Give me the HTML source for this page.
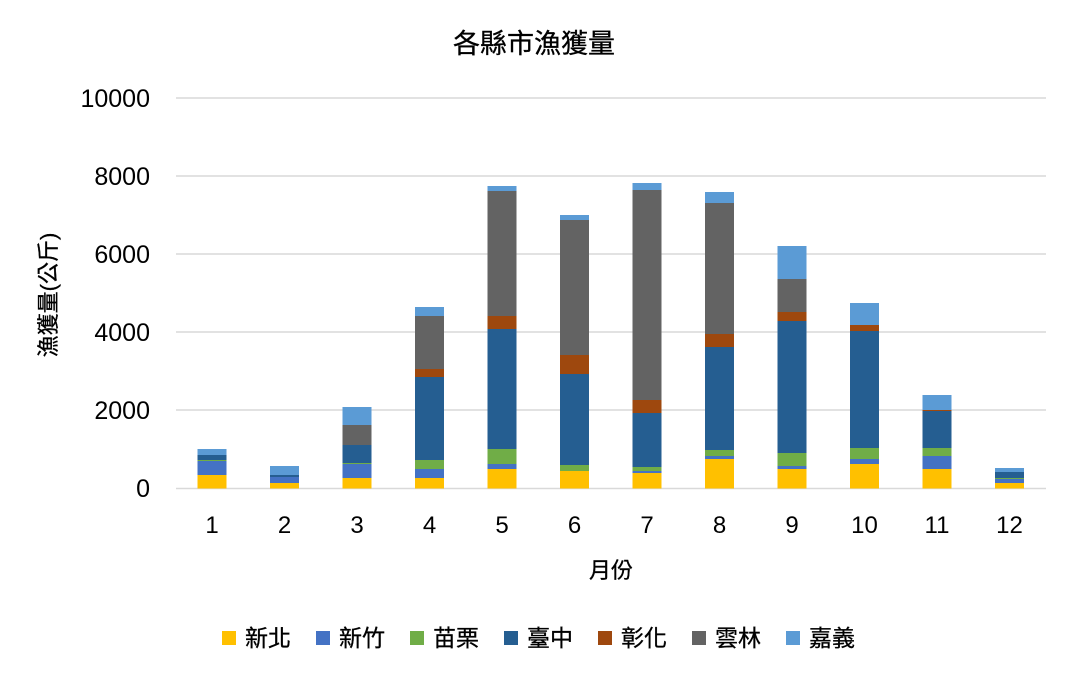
<!DOCTYPE html>
<html><head><meta charset="utf-8">
<style>
html,body{margin:0;padding:0;background:#fff;}
svg{display:block;font-family:"Liberation Sans","Noto Sans CJK TC",sans-serif;}
</style></head>
<body>
<svg id="c" width="1069" height="673" viewBox="0 0 1069 673" xmlns="http://www.w3.org/2000/svg">
<rect width="1069" height="673" fill="#fff"/>
<text x="534" y="53" font-size="27" text-anchor="middle" fill="#000" stroke="#000" stroke-width="0.3">各縣市漁獲量</text>
<g stroke="#d9d9d9" stroke-width="1.5">
<line x1="176" x2="1046" y1="98" y2="98"/>
<line x1="176" x2="1046" y1="176" y2="176"/>
<line x1="176" x2="1046" y1="254" y2="254"/>
<line x1="176" x2="1046" y1="332" y2="332"/>
<line x1="176" x2="1046" y1="410" y2="410"/>
<line x1="176" x2="1046" y1="488.5" y2="488.5"/>
</g>
<g font-size="25" text-anchor="end" fill="#000">
<text x="150" y="107">10000</text>
<text x="150" y="185">8000</text>
<text x="150" y="263">6000</text>
<text x="150" y="341">4000</text>
<text x="150" y="419">2000</text>
<text x="150" y="497">0</text>
</g>
<text transform="translate(56,295) rotate(-90)" font-size="22" text-anchor="middle" fill="#000" stroke="#000" stroke-width="0.3">漁獲量(公斤)</text>
<text x="611" y="578" font-size="22" text-anchor="middle" fill="#000" stroke="#000" stroke-width="0.3">月份</text>
<g id="bars"></g>
<g id="xl" font-size="24" text-anchor="middle" fill="#000"></g>
<g font-size="23" fill="#000" stroke="#000" stroke-width="0.3">
<rect x="222" y="631" width="14" height="14" fill="#FFC000" stroke="none"/><text x="245" y="646">新北</text>
<rect x="316" y="631" width="14" height="14" fill="#4472C4" stroke="none"/><text x="339" y="646">新竹</text>
<rect x="410" y="631" width="14" height="14" fill="#70AD47" stroke="none"/><text x="433" y="646">苗栗</text>
<rect x="504" y="631" width="14" height="14" fill="#255E91" stroke="none"/><text x="527" y="646">臺中</text>
<rect x="598" y="631" width="14" height="14" fill="#9E480E" stroke="none"/><text x="621" y="646">彰化</text>
<rect x="692" y="631" width="14" height="14" fill="#636363" stroke="none"/><text x="715" y="646">雲林</text>
<rect x="786" y="631" width="14" height="14" fill="#5B9BD5" stroke="none"/><text x="809" y="646">嘉義</text>
</g>
</svg>
<script>
var cols=["#FFC000","#4472C4","#70AD47","#255E91","#9E480E","#636363","#5B9BD5"];
var data=[
[475,461,460,455,null,null,449],
[483,477,null,475,null,null,466],
[478,464,463,445,null,425,407],
[478,469,460,377,369,316,307],
[469,464,449,329,316,191,186],
[471,null,465,374,355,220,215],
[473,471,467,413,400,190,183],
[459,456,450,347,334,203,192],
[469,466,453,321,312,279,246],
[464,459,448,331,325,null,303],
[469,456,448,411,410,null,395],
[483,479,478,472,null,null,468]
];
var ns="http://www.w3.org/2000/svg",g=document.getElementById("bars"),xl=document.getElementById("xl");
for(var i=0;i<12;i++){
  var cx=212+i*72.5,bot=488.5;
  for(var k=0;k<7;k++){
    var t=data[i][k]; if(t==null) continue;
    var r=document.createElementNS(ns,"rect");
    r.setAttribute("x",cx-14.5);r.setAttribute("width",29);
    r.setAttribute("y",t);r.setAttribute("height",bot-t);
    r.setAttribute("fill",cols[k]);g.appendChild(r);bot=t;
  }
  var tx=document.createElementNS(ns,"text");
  tx.setAttribute("x",cx);tx.setAttribute("y",533);tx.textContent=(i+1);xl.appendChild(tx);
}
</script>
</body></html>
